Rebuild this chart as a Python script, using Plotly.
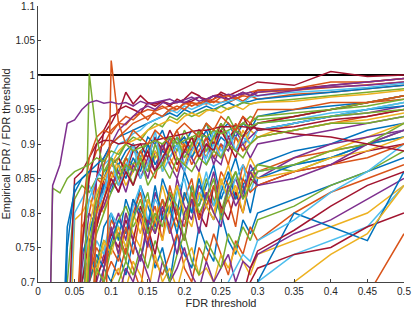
import plotly.graph_objects as go

# FDR thresholds (x grid)
fdr_threshold = [0.01, 0.02, 0.03, 0.04, 0.05, 0.06, 0.07, 0.08, 0.09, 0.10,
                 0.11, 0.12, 0.13, 0.14, 0.15, 0.16, 0.17, 0.18, 0.19, 0.20,
                 0.21, 0.22, 0.23, 0.24, 0.25, 0.26, 0.27, 0.28, 0.29, 0.30,
                 0.35, 0.40, 0.45, 0.50]

x_ticks = [0, 0.05, 0.1, 0.15, 0.2, 0.25, 0.3, 0.35, 0.4, 0.45, 0.5]
x_tick_labels = ["0", "0.05", "0.1", "0.15", "0.2", "0.25", "0.3", "0.35", "0.4", "0.45", "0.5"]
y_ticks = [0.7, 0.75, 0.8, 0.85, 0.9, 0.95, 1.0, 1.05, 1.1]
y_tick_labels = ["0.7", "0.75", "0.8", "0.85", "0.9", "0.95", "1", "1.05", "1.1"]
reference_level = [1.0, 1.0]
reference_x = [0.0, 0.5]

# Empirical FDR / FDR threshold ratios, one list per simulation run
run_d01 = [.3,.3,.3,.3,.3,.4,.6,.68,.72,.7, .74,.71,.76,.73,.78,.72,.75,.7,.77,.74, .72,.78,.75,.73,.8,.76,.74,.79,.77,.8, .82,.84,.86,.88]
run_d02 = [.3,.3,.3,.3,.3,.3,.3,.5,.7,.73, .71,.75,.72,.69,.76,.73,.71,.74,.77,.72, .7,.75,.73,.77,.74,.71,.76,.74,.78,.76, .8,.83,.85,.87]
run_d03 = [.3,.3,.3,.3,.3,.3,.4,.55,.65,.7, .72,.69,.73,.71,.68,.74,.7,.72,.69,.73, .75,.71,.72,.7,.74,.72,.75,.73,.71,.74, .76,.78,.8,.84]
run_d04 = [.3,.3,.3,.3,.3,.3,.3,.3,.5,.62, .68,.72,.7,.74,.71,.68,.73,.7,.72,.75, .71,.69,.73,.7,.72,.74,.7,.73,.72,.74, .77,.79,.82,.85]
run_d05 = [.3,.3,.3,.3,.3,.3,.3,.4,.6,.68, .7,.73,.71,.75,.72,.76,.73,.7,.74,.77, .73,.71,.76,.74,.72,.77,.75,.78,.76,.79, .81,.84,.86,.89]
run_d06 = [.3,.3,.3,.3,.3,.3,.3,.3,.3,.3, .5,.62,.66,.7,.68,.65,.69,.64,.66,.62, .65,.6,.64,.62,.66,.63,.65,.67,.66,.7, .74,.76,.78,.84]
run_d07 = [.3,.3,.3,.3,.3,.3,.3,.3,.3,.3, .3,.3,.4,.5,.55,.6,.58,.62,.6,.64, .62,.6,.63,.66,.64,.62,.66,.68,.7,.72, .74,.75,.78,.8]
run_d08 = [.3,.3,.3,.3,.3,.3,.3,.3,.3,.3, .3,.3,.3,.3,.3,.3,.3,.3,.3,.3, .4,.5,.55,.6,.62,.6,.64,.66,.68,.7, .8,.78,.76,.86]
run_d09 = [.3,.3,.3,.3,.3,.3,.3,.3,.3,.3, .3,.3,.3,.3,.3,.3,.3,.3,.3,.3, .3,.3,.3,.3,.3,.3,.3,.3,.3,.3, .5,.6,.68,.77]
run_d10 = [.3,.3,.3,.3,.3,.3,.3,.3,.3,.3, .3,.3,.3,.3,.3,.3,.3,.3,.3,.3, .3,.3,.3,.3,.3,.3,.3,.3,.5,.6, .7,.74,.77,.84]
run_d11 = [.3,.3,.3,.3,.3,.3,.3,.3,.3,.3, .3,.3,.3,.3,.3,.3,.3,.3,.3,.3, .5,.6,.62,.65,.68,.7,.72,.74,.73,.76, .79,.83,.86,.9]
run_d12 = [.3,.3,.3,.3,.3,.3,.3,.3,.3,.3, .3,.3,.3,.3,.3,.3,.3,.3,.3,.3, .3,.3,.3,.3,.3,.55,.62,.68,.72,.745, .775,.81,.84,.86]

run_c01 = [.3,.3,.3,.3,.4,.7,.74,.72,.78,.8, .76,.82,.79,.84,.81,.78,.85,.82,.8,.86, .83,.81,.84,.87,.82,.85,.88,.84,.86,.87, .89,.9,.92,.93]
run_c02 = [.3,.3,.3,.3,.3,.5,.71,.75,.73,.79, .77,.74,.8,.83,.78,.81,.76,.84,.8,.82, .85,.79,.83,.81,.86,.84,.82,.87,.85,.86, .88,.89,.9,.92]
run_c03 = [.3,.3,.3,.3,.3,.4,.6,.72,.75,.78, .74,.8,.77,.75,.82,.79,.84,.8,.78,.83, .8,.86,.82,.8,.84,.87,.83,.85,.88,.86, .87,.89,.91,.93]
run_c04 = [.3,.3,.3,.3,.3,.3,.5,.7,.74,.77, .8,.76,.82,.79,.75,.83,.8,.78,.85,.81, .79,.84,.82,.86,.8,.83,.85,.82,.87,.85, .88,.9,.91,.92]
run_c05 = [.3,.3,.3,.3,.3,.5,.7,.73,.76,.75, .79,.81,.78,.8,.83,.77,.82,.8,.84,.79, .83,.81,.85,.82,.8,.84,.86,.83,.85,.87, .86,.88,.9,.91]
run_c06 = [.3,.3,.3,.3,.4,.65,.72,.76,.74,.8, .78,.75,.81,.84,.79,.82,.8,.77,.83,.85, .8,.82,.86,.81,.84,.82,.85,.87,.83,.86, .87,.88,.9,.92]
run_c07 = [.3,.3,.3,.3,.3,.3,.55,.71,.73,.77, .75,.79,.76,.81,.78,.74,.8,.83,.79,.76, .82,.8,.78,.84,.81,.79,.83,.8,.85,.84, .86,.87,.89,.9]
run_c08 = [.3,.3,.3,.3,.3,.45,.7,.74,.72,.76, .79,.77,.82,.8,.78,.84,.79,.81,.77,.83, .8,.85,.81,.79,.83,.86,.82,.84,.8,.85, .87,.88,.9,.91]
run_c09 = [.3,.3,.3,.3,.3,.3,.3,.6,.72,.75, .73,.78,.74,.8,.76,.79,.82,.77,.8,.78, .83,.79,.81,.84,.8,.82,.78,.85,.83,.84, .86,.87,.88,.9]
run_c10 = [.3,.3,.3,.3,.35,.6,.73,.71,.76,.74, .78,.75,.8,.77,.82,.79,.76,.81,.84,.8, .78,.83,.81,.79,.85,.82,.84,.8,.86,.85, .86,.88,.89,.91]
run_c11 = [.3,.3,.3,.3,.3,.3,.5,.68,.72,.78, .74,.8,.76,.73,.79,.77,.81,.78,.74,.8, .82,.77,.83,.8,.78,.84,.81,.83,.86,.84, .85,.87,.9,.92]
run_c12 = [.3,.3,.3,.3,.3,.4,.66,.72,.7,.75, .77,.73,.79,.82,.77,.8,.78,.83,.81,.76, .84,.8,.82,.85,.79,.83,.86,.82,.84,.86, .87,.89,.9,.93]

run_b01 = [.3,.3,.5,.78,.83,.85,.86,.86,.85,.88, .87,.89,.9,.88,.91,.9,.92,.89,.91,.9, .92,.91,.93,.9,.92,.93,.91,.93,.92,.94, .95,.955,.96,.97]
run_b02 = [.3,.3,.3,.3,.6,.78,.8,.85,.84,.87, .86,.88,.9,.87,.89,.91,.88,.9,.92,.89, .91,.9,.88,.91,.92,.9,.93,.91,.92,.93, .94,.95,.96,.965]
run_b03 = [.3,.3,.3,.3,.3,.6,.75,.82,.8,.85, .88,.86,.87,.89,.86,.88,.9,.87,.89,.9, .88,.91,.89,.9,.88,.9,.91,.89,.92,.91, .93,.94,.95,.96]
run_b04 = [.3,.3,.3,.3,.5,.72,.8,.78,.84,.85, .83,.87,.86,.88,.85,.89,.87,.91,.88,.86, .9,.88,.91,.87,.9,.89,.92,.9,.91,.92, .93,.94,.945,.955]
run_b05 = [.3,.3,.3,.7,.82,.84,.83,.85,.85,.84, .86,.88,.87,.89,.9,.88,.9,.91,.89,.92, .9,.91,.93,.91,.92,.94,.92,.93,.94,.935, .94,.95,.955,.965]
run_b06 = [.3,.3,.3,.3,.4,.7,.78,.8,.83,.86, .85,.87,.89,.88,.86,.9,.88,.89,.91,.87, .9,.89,.88,.92,.89,.9,.91,.9,.92,.93, .935,.945,.95,.96]
run_b07 = [.3,.3,.3,.3,.3,.45,.72,.8,.85,.87, .88,.86,.89,.9,.88,.91,.89,.92,.9,.91, .89,.92,.91,.9,.93,.91,.92,.94,.92,.93, .94,.95,.96,.97]
run_b08 = [.3,.3,.3,.3,.5,.74,.77,.81,.84,.83, .87,.85,.88,.86,.9,.87,.89,.88,.9,.91, .88,.9,.92,.89,.91,.9,.92,.91,.93,.92, .93,.94,.95,.955]
run_b09 = [.3,.3,.3,.3,.3,.4,.7,.78,.82,.86, .84,.88,.86,.89,.87,.85,.9,.88,.86,.9, .87,.89,.91,.88,.9,.87,.91,.89,.9,.91, .92,.93,.94,.95]
run_b10 = [.3,.3,.3,.5,.79,.8,.82,.8,.82,.85, .87,.84,.86,.88,.87,.89,.86,.9,.88,.87, .9,.88,.89,.91,.88,.9,.89,.92,.9,.91, .92,.93,.935,.945]
run_b11 = [.3,.3,.3,.3,.4,.68,.74,.79,.81,.84, .86,.83,.87,.85,.88,.86,.9,.87,.85,.89, .88,.86,.9,.88,.87,.91,.89,.9,.88,.9, .91,.92,.93,.94]
run_b12 = [.3,.3,.3,.3,.3,.5,.73,.77,.8,.83, .85,.87,.84,.88,.86,.9,.87,.89,.91,.88, .9,.92,.89,.91,.93,.9,.92,.91,.93,.94, .945,.95,.96,.97]
run_b13 = [.3,.3,.3,.6,.8,.82,.84,.81,.83,.88, .84,.86,.9,.85,.87,.92,.86,.88,.9,.86, .89,.91,.87,.9,.88,.92,.89,.91,.9,.92, .93,.94,.95,.96]
run_b14 = [.3,.3,.3,.3,.5,.7,.76,.78,.82,.85, .83,.86,.84,.87,.89,.86,.88,.9,.87,.89, .91,.88,.9,.89,.92,.9,.88,.91,.93,.92, .925,.935,.94,.95]

run_a01 = [.3,.3,.3,.3,.3,.5,.7,.85,.92,.94, .945,.975,.958,.97,.96,.955,.962,.958,.96,.965, .975,.97,.96,.965,.975,.97,.975,.98,.985,.99, .985,1.005,.998,1.0]
run_a02 = [.3,.3,.3,.3,.4,.75,.86,.89,.9,.92, .93,.94,.935,.945,.95,.948,.952,.955,.95,.958, .96,.955,.962,.965,.97,.96,.965,.97,.968,.975, .978,.982,.985,.99]
run_a03 = [.3,.3,.3,.6,.85,.86,.88,.9,.915,.93, .95,.955,.95,.945,.96,.958,.962,.955,.965,.96, .962,.968,.965,.97,.972,.965,.97,.975,.97,.978, .98,.985,.99,.995]
run_a04 = [.3,.3,.3,.3,.5,.8,.88,.91,.92,.915, .93,.928,.94,.945,.935,.95,.955,.948,.95,.96, .955,.96,.958,.962,.96,.965,.968,.962,.97,.965, .972,.975,.98,.985]
run_a05 = [.3,.3,.3,.3,.3,.4,.7,.85,.88,.9, .92,.93,.94,.95,.955,.95,.96,.958,.962,.96, .965,.968,.962,.97,.968,.972,.97,.975,.97,.975, .98,.983,.985,.99]
run_a06 = [.3,.3,.4,.75,.84,.85,.86,.87,.88,.9, .91,.915,.92,.925,.93,.935,.94,.945,.94,.95, .945,.95,.955,.95,.955,.96,.955,.96,.962,.965, .97,.975,.98,.985]
run_a07 = [.3,.3,.3,.3,.5,.75,.82,.85,.87,.88, .9,.905,.915,.92,.93,.935,.94,.95,.945,.955, .95,.955,.96,.955,.96,.962,.965,.96,.968,.97, .975,.978,.982,.988]
run_a08 = [.3,.3,.3,.3,.3,.5,.75,.82,.86,.87, .88,.9,.91,.905,.92,.93,.925,.94,.935,.945, .94,.945,.95,.948,.955,.95,.955,.96,.958,.96, .965,.97,.975,.98]
run_a09 = [.3,.3,.3,.3,.4,.6,.78,.83,.85,.87, .89,.9,.905,.91,.92,.925,.93,.935,.93,.94, .945,.94,.948,.95,.945,.952,.955,.95,.958,.96, .962,.968,.972,.978]
run_a10 = [.3,.3,.3,.3,.3,.3,.5,.8,.87,.9, .91,.92,.93,.935,.94,.945,.94,.95,.955,.95, .96,.958,.965,.96,.968,.97,.965,.972,.975,.978, .98,.99,.99,.995]

run_s_smooth = [.3,.3,.3,.3,.5,.75,.85,.9,.905,.905, .9,.902,.898,.9,.9,.905,.908,.91,.912,.915, .918,.92,.92,.922,.925,.925,.926,.925,.924,.923, .915,.91,.9,.89]
run_s_green = [.3,.836,.829,.85,.86,.865,.87,.88,.875,.89, .885,.9,.89,.895,.9,.905,.9,.91,.9,.905, .91,.915,.91,.92,.915,.92,.925,.93,.925,.93, .935,.94,.945,.95]
run_s_spike7 = [.3,.3,.3,.3,.3,.5,1.002,.91,.86,.88, .85,.87,.86,.88,.84,.86,.87,.85,.88,.87, .86,.88,.87,.89,.88,.9,.89,.88,.9,.91, .92,.93,.93,.94]
run_s_spike10 = [.3,.3,.3,.3,.3,.3,.3,.3,.5,1.021, .93,.9,.92,.91,.9,.92,.91,.9,.92,.93, .92,.91,.93,.92,.94,.93,.92,.94,.93,.95, .95,.96,.96,.97]
run_s_purple = [.3,.84,.87,.93,.935,.95,.96,.963,.959,.961, .958,.96,.955,.962,.958,.96,.963,.965,.96,.964, .968,.962,.965,.97,.968,.965,.97,.972,.975,.97, .978,.985,.99,.995]

runs = [
    ("d01", run_d01, "blue"), ("d02", run_d02, "orange"), ("d03", run_d03, "yellow"),
    ("d04", run_d04, "purple"), ("d05", run_d05, "green"), ("d06", run_d06, "lightblue"),
    ("d07", run_d07, "darkred"), ("d08", run_d08, "blue"), ("d09", run_d09, "orange"),
    ("d10", run_d10, "yellow"), ("d11", run_d11, "lightblue"), ("d12", run_d12, "darkred"),
    ("c01", run_c01, "blue"), ("c02", run_c02, "orange"), ("c03", run_c03, "yellow"),
    ("c04", run_c04, "purple"), ("c05", run_c05, "green"), ("c06", run_c06, "lightblue"),
    ("c07", run_c07, "darkred"), ("c08", run_c08, "blue"), ("c09", run_c09, "orange"),
    ("c10", run_c10, "yellow"), ("c11", run_c11, "purple"), ("c12", run_c12, "green"),
    ("b01", run_b01, "blue"), ("b02", run_b02, "orange"), ("b03", run_b03, "yellow"),
    ("b04", run_b04, "purple"), ("b05", run_b05, "green"), ("b06", run_b06, "lightblue"),
    ("b07", run_b07, "darkred"), ("b08", run_b08, "blue"), ("b09", run_b09, "orange"),
    ("b10", run_b10, "yellow"), ("b11", run_b11, "purple"), ("b12", run_b12, "green"),
    ("b13", run_b13, "lightblue"), ("b14", run_b14, "darkred"),
    ("a01", run_a01, "darkred"), ("a02", run_a02, "orange"), ("a03", run_a03, "darkred"),
    ("a04", run_a04, "orange"), ("a05", run_a05, "purple"), ("a06", run_a06, "blue"),
    ("a07", run_a07, "lightblue"), ("a08", run_a08, "green"), ("a09", run_a09, "yellow"),
    ("a10", run_a10, "orange"),
    ("smooth", run_s_smooth, "darkred"), ("green", run_s_green, "green"),
    ("spike7", run_s_spike7, "green"), ("spike10", run_s_spike10, "orange"),
    ("purple", run_s_purple, "purple"),
]

palette = {
    "blue": "#0072BD", "orange": "#D95319", "yellow": "#EDB120", "purple": "#7E2F8E",
    "green": "#77AC30", "lightblue": "#4DBEEE", "darkred": "#A2142F",
}

bad = [name for name, vals, _ in runs if len(vals) != len(fdr_threshold)]
if bad:
    raise ValueError("length mismatch: " + ", ".join(bad))

fig = go.Figure()
fig.add_trace(go.Scatter(x=reference_x, y=reference_level, mode="lines",
                         line=dict(color="#000000", width=2), showlegend=False, hoverinfo="skip"))
for name, vals, col in runs:
    fig.add_trace(go.Scatter(x=fdr_threshold, y=vals, mode="lines", name=name,
                             line=dict(color=palette[col], width=1.5), showlegend=False))

axis_font = dict(family="Liberation Sans, Arial, sans-serif", size=10, color="#262626")
fig.update_layout(
    width=415, height=312,
    margin=dict(l=38, r=11, t=6, b=30),
    paper_bgcolor="white", plot_bgcolor="white",
    font=axis_font,
    xaxis=dict(range=[0, 0.5], tickvals=x_ticks, ticktext=x_tick_labels,
               ticks="inside", ticklen=3, tickcolor="#444", showline=True,
               linecolor="#444", linewidth=1, showgrid=False, zeroline=False,
               automargin=False,
               title=dict(text="FDR threshold", font=dict(size=11, color="#262626"), standoff=2),
               tickfont=axis_font),
    yaxis=dict(range=[0.7, 1.1], tickvals=y_ticks, ticktext=y_tick_labels,
               ticks="inside", ticklen=3, tickcolor="#444", showline=True,
               linecolor="#444", linewidth=1, showgrid=False, zeroline=False,
               automargin=False,
               title=dict(text="Empirical FDR / FDR threshold", font=dict(size=11, color="#262626"), standoff=4),
               tickfont=axis_font),
)
fig.write_html("out.html", config={"displayModeBar": False},
               post_script="document.body.style.margin='0';")
